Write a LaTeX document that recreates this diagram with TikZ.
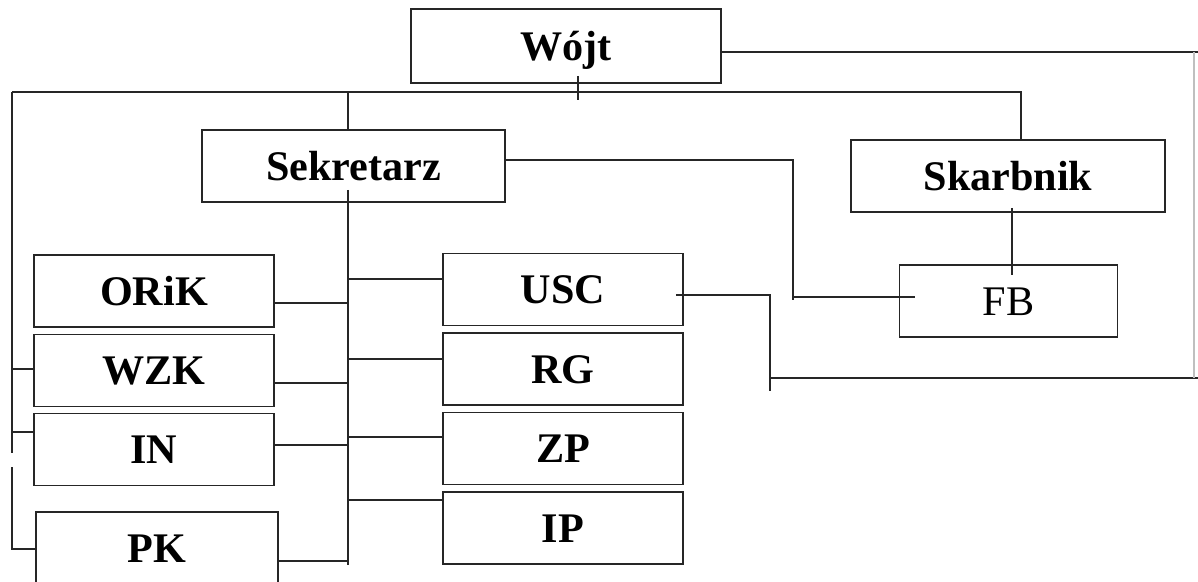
\documentclass[tikz,border=0pt]{standalone}
\usepackage{fontspec}
\setmainfont{Liberation Serif}
\tikzset{
  unit/.style={rectangle, draw=black!85, line width=1.1pt, text centered, inner sep=0, text height=16pt, text depth=0pt, minimum width=4.8cm, minimum height=1.44cm, font=\fontsize{24}{28}\selectfont\bfseries},
  plain/.style={unit, font=\fontsize{24}{28}\selectfont},
  link/.style={draw=black!85, line width=1.1pt}
}

\begin{document}
\begin{tikzpicture}[x=0.02cm, y=-0.02cm]
  \useasboundingbox (0,0) rectangle (1198,582);
  \clip (0,0) rectangle (1198,582);

  \node[unit, minimum width=6.2cm, minimum height=1.48cm](wojt) at (566,46){Wójt};
  \node[unit, minimum width=6.06cm](sekr) at (353.5,166){Sekretarz};
  \node[unit, minimum width=6.28cm](skarb) at (1008,176){Skarbnik};
  \node[plain, minimum width=4.36cm](fb) at (1008.5,301){FB};

  \node[unit](orik) at (154,291){ORiK};
  \node[unit](wzk) at (154,370.5){WZK};
  \node[unit](inw) at (154,449.5){IN};
  \node[unit, minimum width=4.84cm](pk) at (157,548){PK};

  \node[unit](usc) at (563,289.5){USC};
  \node[unit](rg) at (563,369){RG};
  \node[unit](zp) at (563,448.5){ZP};
  \node[unit](ip) at (563,528){IP};

  \coordinate (bus) at (12,92);
  \coordinate (trunk) at (348,92);
  \coordinate (split) at (1021,92);
  \coordinate (tend) at (348,565);
  \coordinate (rtop) at (1198,52);
  \coordinate (rbot) at (1198,378);

  % top bus
  \draw[link] (bus) -- (split) -- (split |- skarb.north);
  \draw[link] (wojt.south -| 578,0) ++(0,-8) -- ++(0,24);
  \draw[link] (trunk) -- (trunk |- sekr.north);
  \draw[link] (trunk |- sekr.south) ++(0,-13) -- (tend);

  % departments under Sekretarz
  \foreach \n/\y in {orik/303, wzk/383, inw/445, pk/561}
    \draw[link] (\n.east |- 0,\y) -- (348,\y);
  \foreach \n/\y in {usc/279, rg/359, zp/437, ip/500}
    \draw[link] (\n.west |- 0,\y) -- (348,\y);

  % left spine
  \draw[link] (bus) -- (12,453);
  \draw[link] (12,467) |- (pk.west |- 0,549);
  \foreach \n/\y in {wzk/369, inw/432}
    \draw[link] (12,\y) -- (\n.west |- 0,\y);

  % Sekretarz, Skarbnik -> FB
  \draw[link] (sekr.east |- 0,160) -- (793,160) -- (793,300);
  \draw[link] (793,297) -- (915,297);
  \draw[link, shorten <=-0.1cm, shorten >=-0.22cm] (skarb.south -| 1012,0) -- (fb.north -| 1012,0);

  % right loop
  \draw[link] (wojt.east |- rtop) -- (rtop);
  \draw[link] (usc.east |- 0,295) ++(-8,0) -- (770,295) -- (770,391);
  \draw[link] (770,378) -- (rbot);
  \draw[black!25, line width=0.6pt] (1194,52) -- (1194,378);
\end{tikzpicture}
\end{document}
